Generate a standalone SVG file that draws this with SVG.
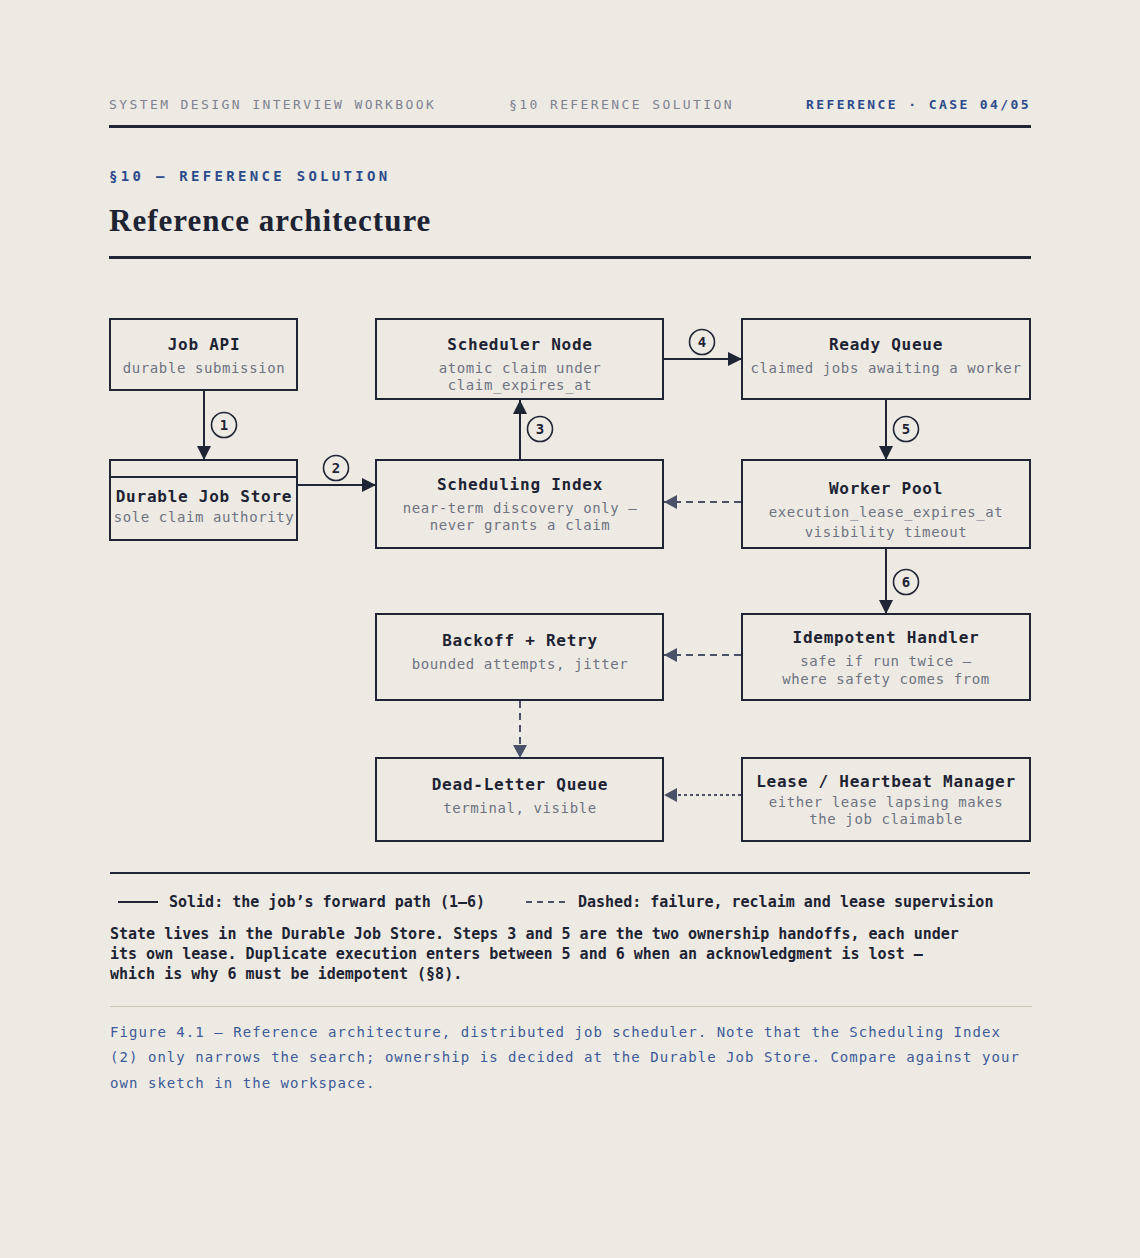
<svg xmlns="http://www.w3.org/2000/svg" width="1140" height="1258" viewBox="0 0 1140 1258">
<style>
.mono{font-family:"DejaVu Sans Mono","Liberation Mono",monospace}
.hdr{font-size:13px;letter-spacing:2.4px;fill:#7d8291}
.hdrb{font-size:13px;letter-spacing:2.4px;fill:#2d4a8c;font-weight:bold}
.sec{font-size:14px;letter-spacing:3.3px;fill:#2d4a8c;font-weight:bold}
.title{font-family:"Liberation Serif","DejaVu Serif",serif;font-size:31px;font-weight:bold;fill:#1d2333;letter-spacing:1px}
.box{fill:#edeae3;stroke:#1f2535;stroke-width:2}
.nt{font-size:16px;font-weight:bold;fill:#1d2333;letter-spacing:0.75px;text-anchor:middle}
.ns{font-size:14px;fill:#6e7382;letter-spacing:0.6px;text-anchor:middle}
.solid{stroke:#1f2535;stroke-width:2;fill:none}
.dash{stroke:#4b5166;stroke-width:2;fill:none;stroke-dasharray:7 5}
.dot{stroke:#4b5166;stroke-width:2;fill:none;stroke-dasharray:3 3}
.badge circle{fill:#edeae3;stroke:#1f2535;stroke-width:1.6}
.badge text{font-size:14px;font-weight:bold;fill:#1d2333;text-anchor:middle}
.leg{font-size:15px;font-weight:bold;fill:#1d2333}
.cap{font-size:14px;fill:#3d5a99;letter-spacing:1.05px}
</style>
<defs>
<marker id="ah" markerUnits="userSpaceOnUse" markerWidth="16" markerHeight="16" refX="14" refY="7" orient="auto"><path d="M0,0 L14,7 L0,14 z" fill="#1f2535"/></marker>
<marker id="ahg" markerUnits="userSpaceOnUse" markerWidth="16" markerHeight="16" refX="13" refY="7" orient="auto"><path d="M0,0 L13,7 L0,14 z" fill="#4b5166"/></marker>
</defs>
<rect x="0" y="0" width="1140" height="1258" fill="#edeae3"/>

<g id="header" class="mono">
<text class="hdr" x="109" y="109">SYSTEM DESIGN INTERVIEW WORKBOOK</text>
<text class="hdr" x="509" y="109">§10 REFERENCE SOLUTION</text>
<text class="hdrb" x="1031" y="109" text-anchor="end">REFERENCE · CASE 04/05</text>
<rect x="109" y="125" width="922" height="3" fill="#1f2535"/>
<text class="sec" x="109" y="181">§10 — REFERENCE SOLUTION</text>
<text class="title" x="109" y="231">Reference architecture</text>
<rect x="109" y="256" width="922" height="3" fill="#1f2535"/>
</g>

<g id="connectors">
<line class="solid" x1="204" y1="391" x2="204" y2="460" marker-end="url(#ah)"/>
<line class="solid" x1="298" y1="485" x2="376" y2="485" marker-end="url(#ah)"/>
<line class="solid" x1="520" y1="459" x2="520" y2="400" marker-end="url(#ah)"/>
<line class="solid" x1="664" y1="359" x2="742" y2="359" marker-end="url(#ah)"/>
<line class="solid" x1="886" y1="400" x2="886" y2="460" marker-end="url(#ah)"/>
<line class="solid" x1="886" y1="549" x2="886" y2="614" marker-end="url(#ah)"/>
<line class="dash" x1="741" y1="502" x2="664" y2="502" marker-end="url(#ahg)"/>
<line class="dash" x1="741" y1="655" x2="664" y2="655" marker-end="url(#ahg)"/>
<line class="dash" x1="520" y1="701" x2="520" y2="758" stroke-dasharray="6 5" marker-end="url(#ahg)"/>
<line class="dot" x1="741" y1="795" x2="664" y2="795" marker-end="url(#ahg)"/>
<g class="badge mono">
<circle cx="224" cy="425" r="12.5"/><text x="224" y="430">1</text>
<circle cx="336" cy="468" r="12.5"/><text x="336" y="473">2</text>
<circle cx="540" cy="429" r="12.5"/><text x="540" y="434">3</text>
<circle cx="702" cy="342" r="12.5"/><text x="702" y="347">4</text>
<circle cx="906" cy="429" r="12.5"/><text x="906" y="434">5</text>
<circle cx="906" cy="582" r="12.5"/><text x="906" y="587">6</text>
</g>
</g>

<g id="node-job-api" class="mono">
<rect class="box" x="110" y="319" width="187" height="71"/>
<text class="nt" x="204" y="350">Job API</text>
<text class="ns" x="204" y="373">durable submission</text>
</g>
<g id="node-durable-job-store" class="mono">
<rect class="box" x="110" y="460" width="187" height="80"/>
<line x1="110" y1="477" x2="297" y2="477" stroke="#1f2535" stroke-width="2"/>
<text class="nt" x="204" y="502">Durable Job Store</text>
<text class="ns" x="204" y="522">sole claim authority</text>
</g>
<g id="node-scheduler-node" class="mono">
<rect class="box" x="376" y="319" width="287" height="80"/>
<text class="nt" x="520" y="350">Scheduler Node</text>
<text class="ns" x="520" y="373">atomic claim under</text>
<text class="ns" x="520" y="390">claim_expires_at</text>
</g>
<g id="node-scheduling-index" class="mono">
<rect class="box" x="376" y="460" width="287" height="88"/>
<text class="nt" x="520" y="490">Scheduling Index</text>
<text class="ns" x="520" y="513">near-term discovery only —</text>
<text class="ns" x="520" y="530">never grants a claim</text>
</g>
<g id="node-ready-queue" class="mono">
<rect class="box" x="742" y="319" width="288" height="80"/>
<text class="nt" x="886" y="350">Ready Queue</text>
<text class="ns" x="886" y="373">claimed jobs awaiting a worker</text>
</g>
<g id="node-worker-pool" class="mono">
<rect class="box" x="742" y="460" width="288" height="88"/>
<text class="nt" x="886" y="494">Worker Pool</text>
<text class="ns" x="886" y="517">execution_lease_expires_at</text>
<text class="ns" x="886" y="537">visibility timeout</text>
</g>
<g id="node-backoff-retry" class="mono">
<rect class="box" x="376" y="614" width="287" height="86"/>
<text class="nt" x="520" y="646">Backoff + Retry</text>
<text class="ns" x="520" y="669">bounded attempts, jitter</text>
</g>
<g id="node-idempotent-handler" class="mono">
<rect class="box" x="742" y="614" width="288" height="86"/>
<text class="nt" x="886" y="643">Idempotent Handler</text>
<text class="ns" x="886" y="666">safe if run twice —</text>
<text class="ns" x="886" y="684">where safety comes from</text>
</g>
<g id="node-dead-letter-queue" class="mono">
<rect class="box" x="376" y="758" width="287" height="83"/>
<text class="nt" x="520" y="790">Dead-Letter Queue</text>
<text class="ns" x="520" y="813">terminal, visible</text>
</g>
<g id="node-lease-heartbeat" class="mono">
<rect class="box" x="742" y="758" width="288" height="83"/>
<text class="nt" x="886" y="787">Lease / Heartbeat Manager</text>
<text class="ns" x="886" y="807">either lease lapsing makes</text>
<text class="ns" x="886" y="824">the job claimable</text>
</g>

<g id="legend" class="mono">
<rect x="110" y="872" width="920" height="2" fill="#1f2535"/>
<line x1="118" y1="902" x2="158" y2="902" stroke="#1f2535" stroke-width="2"/>
<text class="leg" x="169" y="907">Solid: the job’s forward path (1–6)</text>
<line x1="526" y1="902" x2="566" y2="902" stroke="#4b5166" stroke-width="2" stroke-dasharray="6 5"/>
<text class="leg" x="578" y="907">Dashed: failure, reclaim and lease supervision</text>
<text class="leg" x="110" y="939">State lives in the Durable Job Store. Steps 3 and 5 are the two ownership handoffs, each under</text>
<text class="leg" x="110" y="959">its own lease. Duplicate execution enters between 5 and 6 when an acknowledgment is lost —</text>
<text class="leg" x="110" y="979">which is why 6 must be idempotent (§8).</text>
<rect x="110" y="1006" width="922" height="1" fill="#c9c5b2"/>
<text class="cap" x="110" y="1037">Figure 4.1 — Reference architecture, distributed job scheduler. Note that the Scheduling Index</text>
<text class="cap" x="110" y="1062">(2) only narrows the search; ownership is decided at the Durable Job Store. Compare against your</text>
<text class="cap" x="110" y="1088">own sketch in the workspace.</text>
</g>
</svg>
